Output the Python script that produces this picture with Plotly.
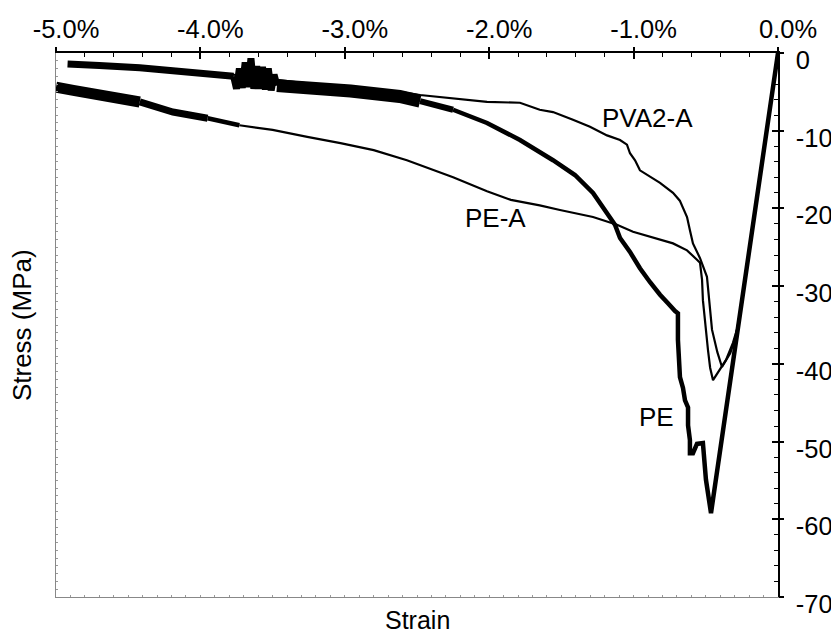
import plotly.graph_objects as go

# ---- data (strain in %, stress in MPa) ----
pe_strain = [0.0, -0.232, -0.464, -0.499, -0.520, -0.561, -0.589, -0.610, -0.610, -0.623, -0.623,
             -0.644, -0.658, -0.679, -0.686, -0.693, -0.693, -0.713, -0.762, -0.817, -0.886,
             -0.956, -1.025, -1.094, -1.129, -1.198, -1.281, -1.406, -1.510, -1.558, -1.787,
             -2.015, -2.250, -2.479, -2.620, -2.960, -3.310, -3.470,
             -3.490, -3.510, -3.530, -3.550, -3.570, -3.590, -3.610, -3.630, -3.650, -3.670,
             -3.690, -3.710, -3.730, -3.750,
             -3.770, -4.140, -4.420, -4.700, -4.920]
pe_stress = [0.0, -29.6, -59.2, -54.9, -50.2, -50.3, -51.5, -51.5, -49.8, -47.9, -45.6,
             -44.7, -43.1, -41.7, -39.5, -36.9, -33.5, -33.2, -32.2, -31.1, -29.5,
             -27.7, -25.6, -23.8, -22.1, -20.2, -18.0, -15.7, -14.4, -13.8, -11.2,
             -9.0, -7.3, -6.2, -5.6, -4.9, -4.3, -4.2,
             -2.8, -4.8, -2.0, -4.7, -1.8, -4.6, -1.7, -4.6, -0.7, -4.4,
             -1.2, -4.5, -2.0, -4.6,
             -3.0, -2.3, -1.9, -1.6, -1.4]

pea_strain = [0.0, -0.120, -0.245, -0.275, -0.312, -0.360, -0.450, -0.470, -0.485, -0.496,
              -0.506, -0.520, -0.526, -0.540, -0.561, -0.630, -0.727, -0.866, -1.004, -1.115,
              -1.281, -1.510, -1.650, -1.850, -2.015, -2.250, -2.479, -2.570, -2.800, -3.030,
              -3.260, -3.500, -3.730, -3.950, -4.190, -4.420, -4.650, -4.880, -5.000]
pea_stress = [0.0, -15.5, -31.5, -35.0, -37.3, -39.5, -42.1, -40.5, -38.2, -36.0,
              -34.4, -31.8, -29.2, -27.0, -26.6, -25.4, -24.5, -23.7, -23.0, -22.1,
              -21.1, -20.2, -19.6, -18.9, -17.8, -16.0, -14.4, -13.8, -12.5, -11.6,
              -10.8, -9.9, -9.3, -8.4, -7.6, -6.3, -5.4, -4.8, -4.4]

pva_strain = [0.0, -0.120, -0.250, -0.290, -0.330, -0.388, -0.420, -0.457, -0.485, -0.492,
              -0.540, -0.589, -0.610, -0.630, -0.680, -0.727, -0.817, -0.956, -0.990, -1.025,
              -1.046, -1.094, -1.184, -1.302, -1.420, -1.558, -1.650, -1.787, -2.015, -2.250,
              -2.479, -2.620, -2.960, -3.310, -3.770, -4.420, -4.900]
pva_stress = [0.0, -15.5, -32.0, -36.3, -38.6, -40.4, -38.5, -35.6, -30.5, -28.8,
              -26.4, -24.5, -22.8, -21.1, -19.0, -18.0, -16.7, -15.1, -13.8, -12.9,
              -11.8, -11.2, -10.6, -9.5, -8.6, -7.6, -7.3, -6.4, -6.3, -5.8,
              -5.4, -5.0, -4.4, -3.8, -2.8, -1.7, -1.3]

x_ticks = [-5.0, -4.0, -3.0, -2.0, -1.0, 0.0]
x_ticktext = ["-5.0%", "-4.0%", "-3.0%", "-2.0%", "-1.0%", "0.0%"]
y_ticks = [0, -10, -20, -30, -40, -50, -60, -70]
y_ticktext = ["0", "-10", "-20", "-30", "-40", "-50", "-60", "-70"]

labels = ["PVA2-A", "PE-A", "PE"]
label_x = [-0.907, -1.953, -0.838]
label_y = [-8.4, -21.2, -46.8]

FONT = "Liberation Sans, Arial, sans-serif"

fig = go.Figure()


def add_segments(xs, ys, cuts, widths):
    """Draw one series as consecutive index ranges with their own line widths."""
    bounds = [0] + cuts + [len(xs) - 1]
    for i, w in enumerate(widths):
        a, b = bounds[i], bounds[i + 1]
        fig.add_trace(go.Scatter(x=xs[a:b + 1], y=ys[a:b + 1], mode="lines",
                                 line=dict(color="black", width=w, shape="linear"),
                                 hoverinfo="skip", showlegend=False))


def idx_beyond(xs, thr):
    for i, v in enumerate(xs):
        if v <= thr:
            return i
    return len(xs) - 1


# PE-A: noisy/thick at far left
add_segments(pea_strain, pea_stress,
             [idx_beyond(pea_strain, -3.6), idx_beyond(pea_strain, -3.95), idx_beyond(pea_strain, -4.4)],
             [2.2, 4.5, 7, 11])
# PE: thick, very noisy in the left part
add_segments(pe_strain, pe_stress,
             [idx_beyond(pe_strain, -2.2), idx_beyond(pe_strain, -2.45), idx_beyond(pe_strain, -3.47),
              idx_beyond(pe_strain, -3.76)],
             [4.5, 6, 13, 7, 7])
# PVA2-A: thin
add_segments(pva_strain, pva_stress, [], [2.2])

for t, lx, ly in zip(labels, label_x, label_y):
    fig.add_annotation(x=lx, y=ly, text=t, showarrow=False,
                       font=dict(family=FONT, size=26, color="black"),
                       bgcolor="rgba(0,0,0,0)")

fig.add_annotation(x=0.5, y=-0.042, xref="paper", yref="paper", text="Strain",
                   showarrow=False, yanchor="middle",
                   font=dict(family=FONT, size=25, color="black"))
fig.add_annotation(x=-0.047, y=0.5, xref="paper", yref="paper", text="Stress (MPa)",
                   showarrow=False, textangle=-90, xanchor="center", yanchor="middle",
                   font=dict(family=FONT, size=26, color="black"))

# the page body adds an 8 px offset, so the figure is sized to the remaining window
fig.update_layout(
    width=831, height=628,
    margin=dict(l=48, r=61, t=45, b=39, autoexpand=False),
    paper_bgcolor="white", plot_bgcolor="white",
    font=dict(family=FONT, size=24, color="black"),
    showlegend=False,
    xaxis=dict(range=[-5, 0], side="top", tickvals=x_ticks, ticktext=x_ticktext,
               automargin=False,
               showline=True, linecolor="black", linewidth=1.5,
               ticks="inside", ticklen=6, tickwidth=1.5, tickcolor="black",
               minor=dict(dtick=0.2, ticks="inside", ticklen=4, tickwidth=1, tickcolor="black"),
               showgrid=False, zeroline=False, ticklabelstandoff=3, ticklabelshift=10,
               tickfont=dict(family=FONT, size=25.5)),
    yaxis=dict(range=[-70, 0], side="right", tickvals=y_ticks, ticktext=y_ticktext,
               automargin=False,
               showline=True, linecolor="black", linewidth=1.5,
               ticks="inside", ticklen=6, tickwidth=1.5, tickcolor="black",
               minor=dict(dtick=2, ticks="inside", ticklen=4, tickwidth=1, tickcolor="black"),
               showgrid=False, zeroline=False, ticklabelstandoff=11, ticklabelshift=7,
               tickfont=dict(family=FONT, size=25.5)),
    # outside halves of the crossing major ticks
    xaxis3=dict(range=[-5, 0], overlaying="x", side="top", anchor="y", tickvals=x_ticks,
                automargin=False,
                showticklabels=False, ticks="outside", ticklen=5, tickwidth=1.5,
                tickcolor="black", showline=False, showgrid=False, zeroline=False),
    yaxis3=dict(range=[-70, 0], overlaying="y", side="right", anchor="x", tickvals=y_ticks,
                automargin=False,
                showticklabels=False, ticks="outside", ticklen=5, tickwidth=1.5,
                tickcolor="black", showline=False, showgrid=False, zeroline=False),
    # faint dotted-looking left and bottom frame
    xaxis2=dict(range=[-5, 0], overlaying="x", side="bottom", anchor="y", automargin=False,
                showticklabels=False, showline=True, linecolor="#888", linewidth=1.2,
                ticks="inside", dtick=0.1, tick0=0, ticklen=2, tickwidth=1, tickcolor="#999",
                showgrid=False, zeroline=False),
    yaxis2=dict(range=[-70, 0], overlaying="y", side="left", anchor="x", automargin=False,
                showticklabels=False, showline=True, linecolor="#888", linewidth=1.2,
                ticks="inside", dtick=1, tick0=0, ticklen=2, tickwidth=1, tickcolor="#999",
                showgrid=False, zeroline=False),
)

# dummy invisible traces so the overlay axes are drawn
fig.add_trace(go.Scatter(x=[None], y=[None], xaxis="x2", yaxis="y2", showlegend=False))
fig.add_trace(go.Scatter(x=[None], y=[None], xaxis="x3", yaxis="y3", showlegend=False))

fig.write_html("out.html")
